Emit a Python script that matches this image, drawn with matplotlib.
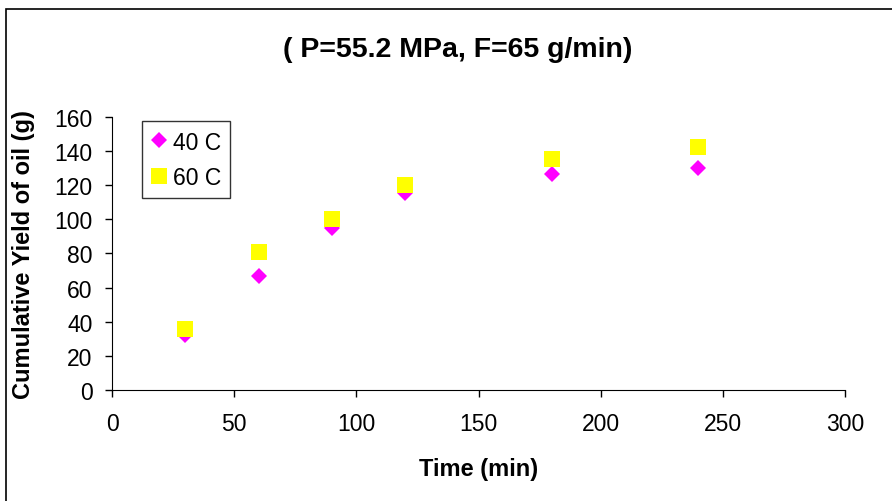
import matplotlib.pyplot as plt
from matplotlib.patches import Rectangle

plt.rcParams['font.family'] = ['Liberation Sans', 'DejaVu Sans']

# Yield vs time at two temperatures
time_min = [30, 60, 90, 120, 180, 240]
yield_40c = [32, 67, 95, 115.5, 126.5, 130]
yield_60c = [35.5, 81, 100, 120, 135.5, 142.5]

fig = plt.figure(figsize=(8.92, 5.02), dpi=100)
ax = fig.add_axes([0.1256, 0.2211, 0.8217, 0.5439])

# outer frame of the chart area (runs off the right and bottom edges)
fig.patches.append(Rectangle((6 / 892, -0.1), 2, 1.1 - 10 / 502, transform=fig.transFigure,
                             fill=False, edgecolor='black', linewidth=1.2))

ax.plot(time_min, yield_40c, 'D', color='#FF00FF', markersize=7.8, markeredgewidth=0, label='40 C')
ax.plot(time_min, yield_60c, 's', color='#FFFF00', markersize=11, markeredgewidth=0, label='60 C')

ax.set_xlim(0, 300)
ax.set_ylim(0, 160)
ax.set_xticks(range(0, 301, 50))
ax.set_yticks(range(0, 161, 20))
ax.spines['top'].set_visible(False)
ax.spines['right'].set_visible(False)
ax.tick_params(direction='out', length=5, labelsize=16.5, width=1)
ax.tick_params(axis='x', pad=11)
ax.tick_params(axis='y', pad=9)

ax.set_xlabel('Time (min)', fontsize=17, fontweight='bold')
ax.xaxis.set_label_coords(0.5, -0.245)
ax.set_ylabel('Cumulative Yield of oil (g)', fontsize=17, fontweight='bold')
ax.yaxis.set_label_coords(-0.105, 0.5)
fig.text(0.513, 0.900, '( P=55.2 MPa, F=65 g/min)', ha='center', va='center',
         fontsize=20.5, fontweight='bold')

leg = ax.legend(loc='upper left', bbox_to_anchor=(0.041, 0.984), fontsize=16.5, frameon=True,
                fancybox=False, edgecolor='black', handlelength=0.7, handletextpad=0.25,
                borderpad=0.4, labelspacing=0.55, borderaxespad=0)
leg.get_frame().set_linewidth(1)

fig.savefig('out.png', dpi=100)
